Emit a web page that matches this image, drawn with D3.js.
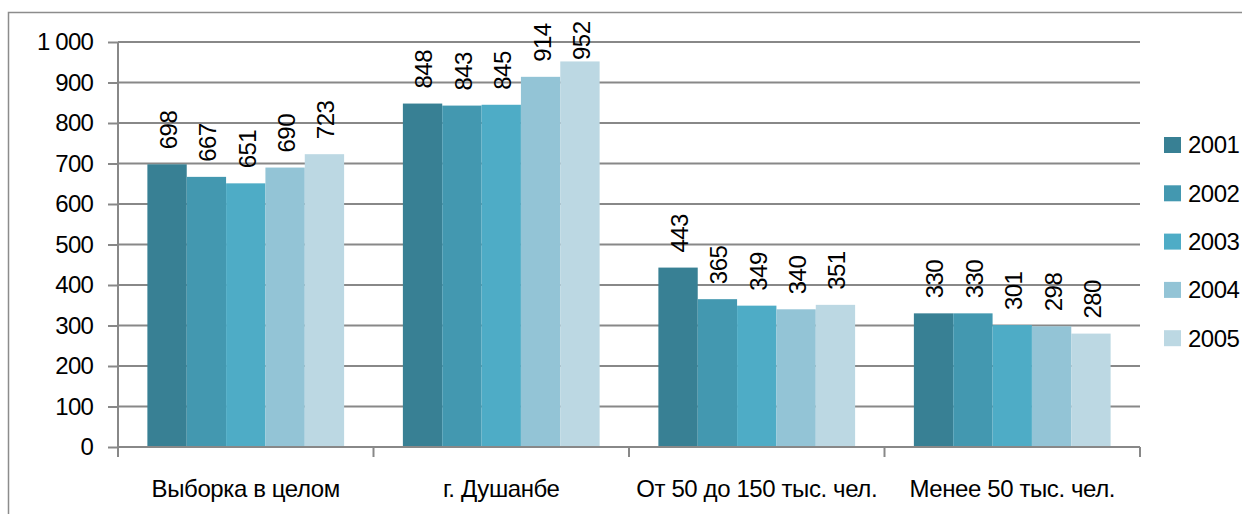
<!DOCTYPE html>
<html>
<head>
<meta charset="utf-8">
<script src="https://cdn.jsdelivr.net/npm/d3@7"></script>
<style>
  html, body { margin: 0; padding: 0; background: #fff; }
  svg { display: block; font-family: "Liberation Sans", Arial, sans-serif; }
</style>
</head>
<body>
<svg id="chart" width="1242" height="514"></svg>
<script>
// Groups on the x axis
const categories = ["Выборка в целом", "г. Душанбе", "От 50 до 150 тыс. чел.", "Менее 50 тыс. чел."];
// Series (years) and their values per group
const years = ["2001", "2002", "2003", "2004", "2005"];
const values2001 = [698, 848, 443, 330];
const values2002 = [667, 843, 365, 330];
const values2003 = [651, 845, 349, 301];
const values2004 = [690, 914, 340, 298];
const values2005 = [723, 952, 351, 280];
const seriesValues = [values2001, values2002, values2003, values2004, values2005];
// Y axis ticks and their labels
const yTicks = [0, 100, 200, 300, 400, 500, 600, 700, 800, 900, 1000];
const yTickLabels = ["0", "100", "200", "300", "400", "500", "600", "700", "800", "900", "1 000"];
const colors = ["#388094", "#4398b0", "#4eacc6", "#93c4d6", "#bcd8e3"];

const FONT = "Liberation Sans, Arial, sans-serif";
const svg = d3.select("#chart");
const plot = { left: 118, right: 1140, top: 42, bottom: 447 };

// outer frame
svg.append("rect")
  .attr("x", 8.5).attr("y", 12.5)
  .attr("width", 1260).attr("height", 520)
  .attr("fill", "none").attr("stroke", "#8c8c8c").attr("stroke-width", 1.5);

const x0 = d3.scaleBand().domain(categories).range([plot.left, plot.right]).paddingInner(0).paddingOuter(0);
const bandPad = 0.115;
const x1 = d3.scaleBand().domain(years)
  .range([x0.bandwidth() * bandPad, x0.bandwidth() * (1 - bandPad)]).padding(0);
const y = d3.scaleLinear().domain([0, 1000]).range([plot.bottom, plot.top]);

// gridlines
svg.append("g").selectAll("line").data(yTicks.filter(t => t > 0)).join("line")
  .attr("x1", plot.left).attr("x2", plot.right)
  .attr("y1", d => y(d)).attr("y2", d => y(d))
  .attr("stroke", "#888").attr("stroke-width", 2);

// y axis
const yAxis = d3.axisLeft(y).tickValues(yTicks).tickSize(10).tickPadding(15)
  .tickFormat((d, i) => yTickLabels[i]);
const gy = svg.append("g").attr("transform", `translate(${plot.left},0)`).call(yAxis);
gy.attr("font-size", null).attr("font-family", null);
gy.select(".domain").attr("stroke", "#888").attr("stroke-width", 2).attr("d", `M0,${plot.top}V${plot.bottom}`);
gy.selectAll(".tick line").attr("stroke", "#888").attr("stroke-width", 2);
gy.selectAll(".tick text").attr("font-size", 24).attr("fill", "#000")
  .attr("font-family", FONT).attr("letter-spacing", -0.8);

// bars
const groups = svg.append("g").selectAll("g").data(categories).join("g")
  .attr("transform", d => `translate(${x0(d)},0)`);
groups.selectAll("rect").data((c, ci) => years.map((yr, si) => ({ yr, si, v: seriesValues[si][ci] })))
  .join("rect")
  .attr("x", d => x1(d.yr)).attr("width", x1.bandwidth())
  .attr("y", d => y(d.v)).attr("height", d => y(0) - y(d.v))
  .attr("fill", d => colors[d.si]);

// value labels, rotated; kept inside the frame when a bar reaches the top
const labelGap = 15, labelLen = 40, labelTopLimit = 20;
groups.selectAll("text").data((c, ci) => years.map((yr, si) => ({ yr, si, v: seriesValues[si][ci] })))
  .join("text")
  .attr("transform", d => {
    const start = Math.max(y(d.v) - labelGap, labelTopLimit + labelLen);
    return `translate(${x1(d.yr) + x1.bandwidth() / 2 + 1.5},${start}) rotate(-90)`;
  })
  .attr("dy", "0.35em")
  .attr("font-size", 24).attr("fill", "#000").attr("font-family", FONT)
  .attr("letter-spacing", -0.5)
  .text(d => d.v);

// x axis
const xAxis = d3.axisBottom(x0).tickSize(0);
const gx = svg.append("g").attr("transform", `translate(0,${plot.bottom})`).call(xAxis);
gx.attr("font-size", null).attr("font-family", null);
gx.select(".domain").attr("stroke", "#888").attr("stroke-width", 2).attr("d", `M${plot.left},0H${plot.right}`);
gx.selectAll(".tick text").attr("y", 50).attr("dy", 0)
  .attr("font-size", 24).attr("fill", "#000")
  .attr("font-family", FONT).attr("letter-spacing", -0.4);
// category boundary ticks
svg.append("g").selectAll("line").data(d3.range(categories.length + 1)).join("line")
  .attr("x1", i => plot.left + i * x0.bandwidth()).attr("x2", i => plot.left + i * x0.bandwidth())
  .attr("y1", plot.bottom).attr("y2", plot.bottom + 10)
  .attr("stroke", "#888").attr("stroke-width", 2);

// legend
const legend = svg.append("g").selectAll("g").data(years).join("g")
  .attr("transform", (d, i) => `translate(1164,${145 + i * 48.3})`);
legend.append("rect").attr("x", 0).attr("y", -8).attr("width", 17).attr("height", 16)
  .attr("fill", (d, i) => colors[i]);
legend.append("text").attr("x", 24).attr("dy", "0.35em").attr("font-size", 24).attr("fill", "#000")
  .attr("font-family", FONT).attr("letter-spacing", -0.5)
  .text(d => d);
</script>
</body>
</html>
